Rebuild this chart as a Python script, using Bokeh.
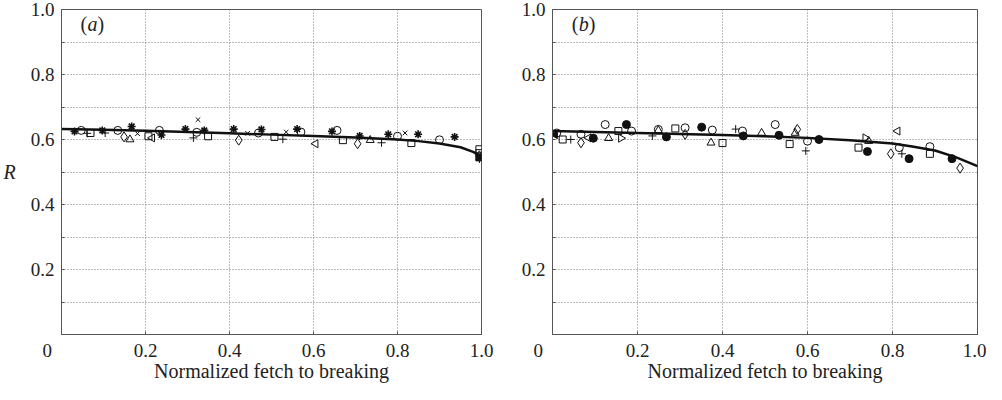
import math
from bokeh.plotting import figure
from bokeh.layouts import row
from bokeh.models import FixedTicker, Label, CustomJSTickFormatter
from bokeh.embed import file_html
from bokeh.resources import INLINE

FONT = "Liberation Serif"

x_ticks = [0, 0.2, 0.4, 0.6, 0.8, 1.0]
x_grid = [0.2, 0.4, 0.6, 0.8]
y_ticks = [0.1, 0.2, 0.3, 0.4, 0.5, 0.6, 0.7, 0.8, 0.9, 1.0]
y_grid = [0.1, 0.2, 0.3, 0.4, 0.5, 0.6, 0.7, 0.8, 0.9]
x_title = "Normalized fetch to breaking"
y_title = "R"

# ---------------- panel (a) ----------------
a_curve_x = [0.0, 0.1, 0.2, 0.3, 0.4, 0.5, 0.6, 0.7, 0.8, 0.85, 0.9, 0.95, 0.98, 1.0]
a_curve_y = [0.632, 0.630, 0.627, 0.623, 0.619, 0.615, 0.611, 0.606, 0.600, 0.595, 0.588, 0.576, 0.562, 0.548]

a_circle_x = [0.047, 0.134, 0.233, 0.322, 0.469, 0.570, 0.656, 0.800, 0.900]
a_circle_y = [0.628, 0.628, 0.628, 0.622, 0.620, 0.623, 0.628, 0.610, 0.599]
a_square_x = [0.069, 0.207, 0.349, 0.507, 0.670, 0.833, 0.995, 0.995]
a_square_y = [0.620, 0.610, 0.610, 0.608, 0.598, 0.589, 0.570, 0.558]
a_star_x = [0.031, 0.097, 0.167, 0.238, 0.295, 0.340, 0.410, 0.476, 0.561, 0.644, 0.710, 0.778, 0.849, 0.936]
a_star_y = [0.625, 0.628, 0.640, 0.614, 0.632, 0.628, 0.632, 0.631, 0.632, 0.625, 0.611, 0.616, 0.616, 0.608]
a_plus_x = [0.061, 0.104, 0.314, 0.527, 0.762, 0.995]
a_plus_y = [0.619, 0.620, 0.605, 0.601, 0.590, 0.540]
a_x_x = [0.181, 0.325, 0.443, 0.535, 0.818]
a_x_y = [0.618, 0.661, 0.619, 0.623, 0.620]
a_diamond_x = [0.149, 0.422, 0.705, 0.995]
a_diamond_y = [0.608, 0.598, 0.587, 0.550]
a_tri_x = [0.163, 0.735]
a_tri_y = [0.600, 0.598]
a_ltri_x = [0.216, 0.605]
a_ltri_y = [0.605, 0.587]
a_dot_x = [0.995]
a_dot_y = [0.545]

# ---------------- panel (b) ----------------
b_curve_x = [0.0, 0.1, 0.2, 0.3, 0.4, 0.5, 0.6, 0.7, 0.8, 0.85, 0.9, 0.95, 1.0]
b_curve_y = [0.626, 0.623, 0.620, 0.617, 0.614, 0.610, 0.605, 0.598, 0.588, 0.578, 0.566, 0.545, 0.518]

b_circle_x = [0.010, 0.067, 0.124, 0.186, 0.249, 0.312, 0.376, 0.447, 0.524, 0.600, 0.816, 0.888]
b_circle_y = [0.620, 0.616, 0.646, 0.626, 0.631, 0.636, 0.629, 0.626, 0.646, 0.595, 0.575, 0.578]
b_dot_x = [0.096, 0.174, 0.268, 0.351, 0.449, 0.533, 0.627, 0.741, 0.839, 0.940]
b_dot_y = [0.604, 0.646, 0.608, 0.638, 0.611, 0.613, 0.600, 0.563, 0.541, 0.541]
b_square_x = [0.024, 0.155, 0.289, 0.400, 0.558, 0.720, 0.888]
b_square_y = [0.600, 0.626, 0.634, 0.589, 0.586, 0.575, 0.556]
b_plus_x = [0.043, 0.235, 0.431, 0.596, 0.822]
b_plus_y = [0.600, 0.611, 0.632, 0.565, 0.556]
b_diamond_x = [0.067, 0.312, 0.576, 0.796, 0.959]
b_diamond_y = [0.590, 0.616, 0.631, 0.556, 0.512]
b_tri_x = [0.132, 0.249, 0.373, 0.492, 0.571, 0.744]
b_tri_y = [0.604, 0.628, 0.590, 0.620, 0.620, 0.595]
b_ltri_x = [0.085, 0.812]
b_ltri_y = [0.605, 0.626]
b_ltri_fill_x = [0.006]
b_ltri_fill_y = [0.615]
b_rtri_x = [0.161, 0.736]
b_rtri_y = [0.604, 0.605]

INK = "#111111"
FRAME = "#555555"
TEXT = "#222222"

X_FMT = CustomJSTickFormatter(code="""
if (Math.abs(tick) < 1e-9) { return "0\\u2003\\u2002"; }
return tick.toFixed(1);
""")
Y_FMT = CustomJSTickFormatter(code="""
const k = Math.round(tick * 10);
return (k % 2 == 0) ? tick.toFixed(1) : "";
""")


def make_panel(width, left, right, show_ylabel):
    p = figure(width=width, height=384, x_range=(0, 1), y_range=(0, 1),
               output_backend="svg", toolbar_location=None,
               min_border_left=left, min_border_right=right,
               min_border_top=9, min_border_bottom=0)
    p.background_fill_color = "white"
    p.border_fill_color = "white"
    p.outline_line_color = FRAME
    p.outline_line_width = 1

    xa = p.xaxis[0]
    ya = p.yaxis[0]
    xa.ticker = FixedTicker(ticks=x_ticks)
    ya.ticker = FixedTicker(ticks=y_ticks)
    xa.formatter = X_FMT
    ya.formatter = Y_FMT
    for ax in (xa, ya):
        ax.axis_line_color = FRAME
        ax.major_tick_line_color = FRAME
        ax.major_tick_in = 3
        ax.major_tick_out = 0
        ax.minor_tick_line_color = None
        ax.major_label_text_font = FONT
        ax.major_label_text_font_size = "19px"
        ax.major_label_text_color = TEXT
        ax.axis_label_text_font = FONT
        ax.axis_label_text_font_size = "20px"
        ax.axis_label_text_color = TEXT
    xa.major_label_standoff = 5
    ya.major_label_standoff = 7
    xa.axis_label = x_title
    xa.axis_label_text_font_style = "normal"
    xa.axis_label_standoff = -4
    if show_ylabel:
        ya.axis_label = y_title
        ya.axis_label_text_font_style = "italic"
        ya.axis_label_orientation = "horizontal"
        ya.axis_label_standoff = 12

    p.xgrid.ticker = FixedTicker(ticks=x_grid)
    p.ygrid.ticker = FixedTicker(ticks=y_grid)
    for g in (p.xgrid, p.ygrid):
        g.grid_line_color = "#7a7a7a"
        g.grid_line_dash = "1 2"
        g.grid_line_width = 1
    return p


def panel_tag(p, letter, x0):
    common = dict(y=0.955, text_baseline="middle", text_align="left",
                  text_font=FONT, text_font_size="20px", text_color=TEXT)
    p.add_layout(Label(x=x0, text="(", **common))
    p.add_layout(Label(x=x0, x_offset=7, text=letter, text_font_style="italic", **common))
    p.add_layout(Label(x=x0, x_offset=17, text=")", **common))


def open_marker(p, xs, ys, marker, size=8, angle=0.0, lw=1.0):
    p.scatter(xs, ys, marker=marker, size=size, angle=angle, line_color=INK,
              fill_color=None, line_width=lw)


pa = make_panel(507, 57, 26, True)
pa.line(a_curve_x, a_curve_y, line_color=INK, line_width=2.5)
open_marker(pa, a_circle_x, a_circle_y, "circle", 8)
open_marker(pa, a_square_x, a_square_y, "square", 7)
open_marker(pa, a_star_x, a_star_y, "asterisk", 8, lw=1.6)
open_marker(pa, a_plus_x, a_plus_y, "cross", 8)
open_marker(pa, a_x_x, a_x_y, "x", 6.5)
open_marker(pa, a_diamond_x, a_diamond_y, "diamond", 10)
open_marker(pa, a_tri_x, a_tri_y, "triangle", 8)
open_marker(pa, a_ltri_x, a_ltri_y, "triangle", 8, angle=math.pi / 2)
pa.scatter(a_dot_x, a_dot_y, marker="square", size=7, line_color=INK, fill_color=INK)
panel_tag(pa, "a", 0.045)

pb = make_panel(479, 45, 9, False)
pb.line(b_curve_x, b_curve_y, line_color=INK, line_width=2.5)
open_marker(pb, b_circle_x, b_circle_y, "circle", 8)
pb.scatter(b_dot_x, b_dot_y, marker="circle", size=8, line_color=INK, fill_color=INK)
open_marker(pb, b_square_x, b_square_y, "square", 7)
open_marker(pb, b_plus_x, b_plus_y, "cross", 8)
open_marker(pb, b_diamond_x, b_diamond_y, "diamond", 10)
open_marker(pb, b_tri_x, b_tri_y, "triangle", 8)
open_marker(pb, b_ltri_x, b_ltri_y, "triangle", 8, angle=math.pi / 2)
pb.scatter(b_ltri_fill_x, b_ltri_fill_y, marker="triangle", size=8, angle=math.pi / 2,
           line_color=INK, fill_color=INK)
open_marker(pb, b_rtri_x, b_rtri_y, "triangle", 8, angle=-math.pi / 2)
panel_tag(pb, "b", 0.045)

layout = row(pa, pb, spacing=0)
open("out.html", "w").write(file_html(layout, INLINE))
